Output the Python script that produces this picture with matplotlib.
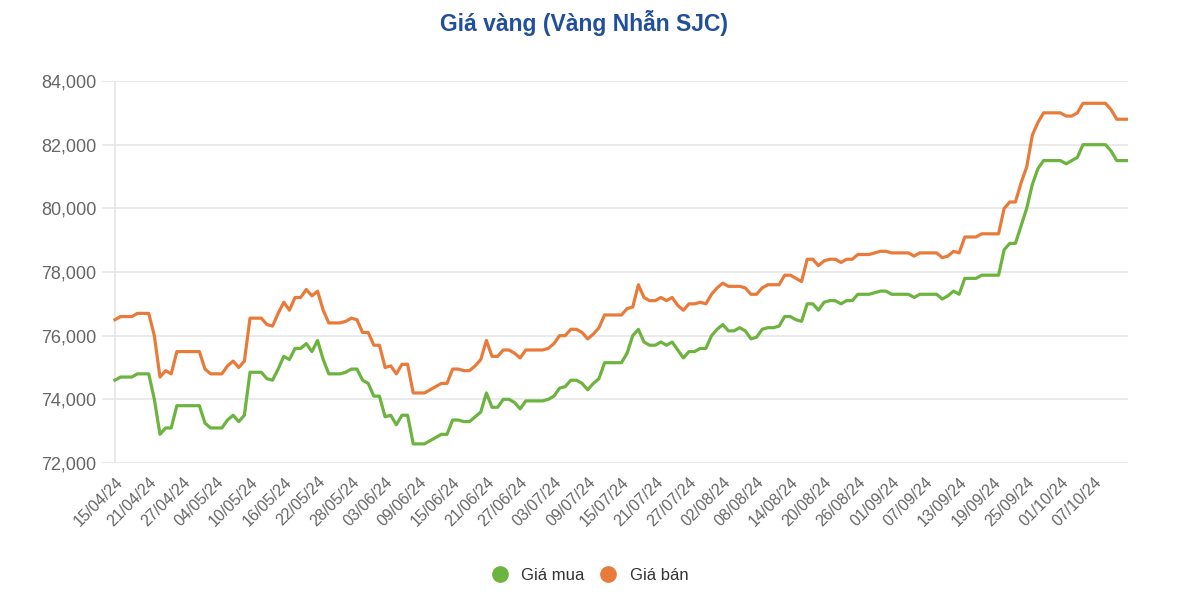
import numpy as np
import pandas as pd
import matplotlib
matplotlib.use("Agg")
import matplotlib.pyplot as plt
from matplotlib.lines import Line2D
from matplotlib.ticker import FuncFormatter

plt.rcParams["font.family"] = ["Liberation Sans", "DejaVu Sans"]

# ngay giao dich (thieu 30/04)
dates = pd.date_range("2024-04-15", "2024-10-13", freq="D")
dates = dates[dates != pd.Timestamp("2024-04-30")]
date_labels = [d.strftime("%d/%m/%y") for d in dates]

# gia mua / gia ban, nghin dong
gia_mua = [
    74.6, 74.7, 74.7, 74.7, 74.8, 74.8, 74.8, 74.0, 72.9, 73.1,
    73.1, 73.8, 73.8, 73.8, 73.8, 73.8, 73.25, 73.1, 73.1, 73.1,
    73.35, 73.5, 73.3, 73.5, 74.85, 74.85, 74.85, 74.65, 74.6, 74.95,
    75.35, 75.25, 75.6, 75.6, 75.75, 75.5, 75.85, 75.25, 74.8, 74.8,
    74.8, 74.85, 74.95, 74.95, 74.6, 74.5, 74.1, 74.1, 73.45, 73.5,
    73.2, 73.5, 73.5, 72.6, 72.6, 72.6, 72.7, 72.8, 72.9, 72.9,
    73.35, 73.35, 73.3, 73.3, 73.45, 73.6, 74.2, 73.75, 73.75, 74.0,
    74.0, 73.9, 73.7, 73.95, 73.95, 73.95, 73.95, 74.0, 74.1, 74.35,
    74.4, 74.6, 74.6, 74.5, 74.3, 74.5, 74.65, 75.15, 75.15, 75.15,
    75.15, 75.45, 76.0, 76.2, 75.8, 75.7, 75.7, 75.8, 75.7, 75.8,
    75.55, 75.3, 75.5, 75.5, 75.6, 75.6, 76.0, 76.2, 76.35, 76.15,
    76.15, 76.25, 76.15, 75.9, 75.95, 76.2, 76.25, 76.25, 76.3, 76.6,
    76.6, 76.5, 76.45, 77.0, 77.0, 76.8, 77.05, 77.1, 77.1, 77.0,
    77.1, 77.1, 77.3, 77.3, 77.3, 77.35, 77.4, 77.4, 77.3, 77.3,
    77.3, 77.3, 77.2, 77.3, 77.3, 77.3, 77.3, 77.15, 77.25, 77.4,
    77.3, 77.8, 77.8, 77.8, 77.9, 77.9, 77.9, 77.9, 78.7, 78.9,
    78.9, 79.45, 80.0, 80.75, 81.25, 81.5, 81.5, 81.5, 81.5, 81.4,
    81.5, 81.6, 82.0, 82.0, 82.0, 82.0, 82.0, 81.8, 81.5, 81.5,
    81.5,
]
gia_ban = [
    76.5, 76.6, 76.6, 76.6, 76.7, 76.7, 76.7, 76.0, 74.7, 74.9,
    74.8, 75.5, 75.5, 75.5, 75.5, 75.5, 74.95, 74.8, 74.8, 74.8,
    75.05, 75.2, 75.0, 75.2, 76.55, 76.55, 76.55, 76.35, 76.3, 76.7,
    77.05, 76.8, 77.2, 77.2, 77.45, 77.25, 77.4, 76.8, 76.4, 76.4,
    76.4, 76.45, 76.55, 76.5, 76.1, 76.1, 75.7, 75.7, 75.0, 75.05,
    74.8, 75.1, 75.1, 74.2, 74.2, 74.2, 74.3, 74.4, 74.5, 74.5,
    74.95, 74.95, 74.9, 74.9, 75.05, 75.25, 75.85, 75.35, 75.35, 75.55,
    75.55, 75.45, 75.3, 75.55, 75.55, 75.55, 75.55, 75.6, 75.75, 76.0,
    76.0, 76.2, 76.2, 76.1, 75.9, 76.05, 76.25, 76.65, 76.65, 76.65,
    76.65, 76.85, 76.9, 77.6, 77.2, 77.1, 77.1, 77.2, 77.1, 77.2,
    76.95, 76.8, 77.0, 77.0, 77.05, 77.0, 77.3, 77.5, 77.65, 77.55,
    77.55, 77.55, 77.5, 77.3, 77.3, 77.5, 77.6, 77.6, 77.6, 77.9,
    77.9, 77.8, 77.7, 78.4, 78.4, 78.2, 78.35, 78.4, 78.4, 78.3,
    78.4, 78.4, 78.55, 78.55, 78.55, 78.6, 78.65, 78.65, 78.6, 78.6,
    78.6, 78.6, 78.5, 78.6, 78.6, 78.6, 78.6, 78.45, 78.5, 78.65,
    78.6, 79.1, 79.1, 79.1, 79.2, 79.2, 79.2, 79.2, 80.0, 80.2,
    80.2, 80.8, 81.3, 82.3, 82.7, 83.0, 83.0, 83.0, 83.0, 82.9,
    82.9, 83.0, 83.3, 83.3, 83.3, 83.3, 83.3, 83.1, 82.8, 82.8,
    82.8,
]

mua = np.array(gia_mua) * 1000
ban = np.array(gia_ban) * 1000
x = np.arange(len(date_labels))

green = "#6cb33f"
orange = "#e87b3a"
grey = "#666666"

fig = plt.figure(figsize=(12, 6.12), dpi=100)
ax = fig.add_axes([0.085, 0.2435, 0.855, 0.6241])

ax.plot(x, mua, color=green, linewidth=2.3, solid_joinstyle="round")
ax.plot(x, ban, color=orange, linewidth=2.3, solid_joinstyle="round")

ax.set_ylim(72000, 84000)
ax.set_yticks(np.arange(72000, 84001, 2000))
ax.yaxis.set_major_formatter(FuncFormatter(lambda v, p: f"{v:,.0f}"))
ax.set_xlim(-2.3, len(x) - 1)
tick_idx = x[:-1:6]
ax.set_xticks(tick_idx)
ax.set_xticklabels([date_labels[i] for i in tick_idx], rotation=45,
                   ha="right", rotation_mode="anchor")

ax.grid(axis="y", color="#e6e6e6", linewidth=1.2)
ax.axvline(0, color="#e6e6e6", linewidth=1.2, zorder=0)
ax.set_axisbelow(True)
for s in ax.spines.values():
    s.set_visible(False)
ax.tick_params(axis="y", length=0, pad=4, labelsize=13, labelcolor=grey)
ax.tick_params(axis="x", length=0, pad=8, labelsize=11.5, labelcolor=grey)

fig.text(0.487, 0.963, "Giá vàng (Vàng Nhẫn SJC)", ha="center", va="center",
         fontsize=16.5, fontweight="bold", color="#214f9c")

handles = [
    Line2D([], [], color=green, marker="o", linestyle="none", markersize=11),
    Line2D([], [], color=orange, marker="o", linestyle="none", markersize=11),
]
fig.legend(handles, ["Giá mua", "Giá bán"], loc="center",
           bbox_to_anchor=(0.488, 0.06), ncol=2, frameon=False,
           fontsize=12, labelcolor="#333333", handletextpad=0.3,
           columnspacing=0.4)

fig.savefig("out.png", dpi=100)
